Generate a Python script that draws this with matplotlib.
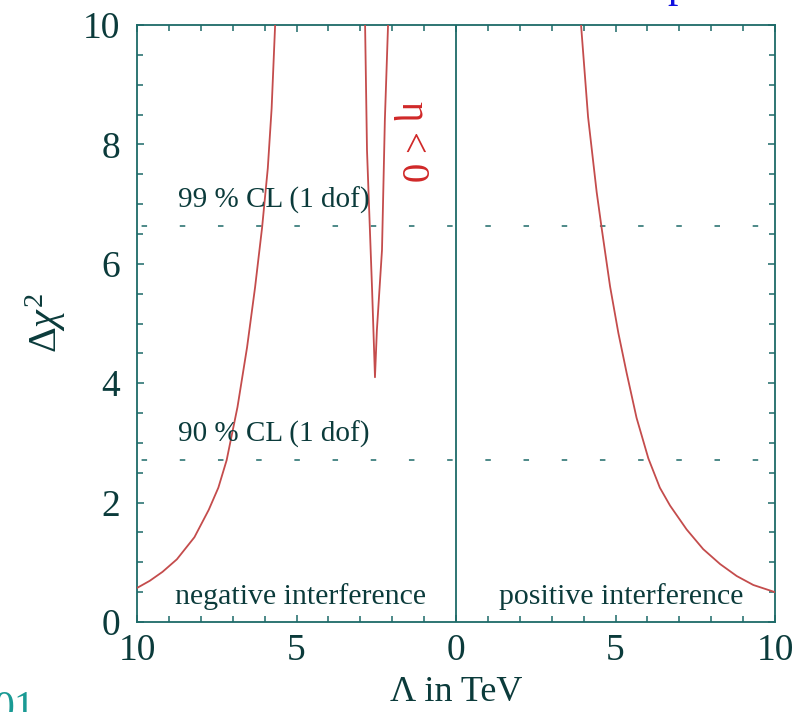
import numpy as np
import matplotlib
matplotlib.use("Agg")
import matplotlib.pyplot as plt
from matplotlib.ticker import MultipleLocator, FixedLocator, FixedFormatter

# curve values (Lambda in TeV, signed: negative = left panel)
left_x = [-10.0, -9.6, -9.2, -8.75, -8.2, -7.75, -7.45, -7.19, -6.85, -6.55, -6.3,
          -6.08, -5.9, -5.78, -5.67]
left_y = [0.57, 0.69, 0.84, 1.05, 1.42, 1.88, 2.25, 2.71, 3.6, 4.6, 5.6,
          6.6, 7.6, 8.6, 10.0]

dip_x = [-2.85, -2.79, -2.63, -2.54, -2.48, -2.32, -2.23, -2.13]
dip_y = [10.0, 7.9, 5.56, 4.1, 4.89, 6.23, 8.41, 10.0]

right_x = [3.92, 4.14, 4.41, 4.56, 4.83, 5.09, 5.35, 5.66, 6.03, 6.39, 6.71, 7.23,
           7.75, 8.28, 8.80, 9.32, 10.0]
right_y = [10.0, 8.46, 7.2, 6.62, 5.62, 4.84, 4.17, 3.42, 2.74, 2.25, 1.95, 1.55,
           1.22, 0.97, 0.77, 0.62, 0.50]

cl_levels = [6.63, 2.71]
cl_labels = ["99 % CL (1 dof)", "90 % CL (1 dof)"]

xtick_pos = [-10, -5, 0, 5, 10]
xtick_lab = ["10", "5", "0", "5", "10"]
ytick_pos = [0, 2, 4, 6, 8, 10]

FRAME = "#1d6a68"
CURVE = "#c44c4c"
TXT = "#0b3b3b"

plt.rcParams["font.family"] = ["Liberation Serif", "DejaVu Serif"]
plt.rcParams["mathtext.fontset"] = "custom"
plt.rcParams["mathtext.rm"] = "Liberation Serif"
plt.rcParams["mathtext.it"] = "Liberation Serif:italic"

fig = plt.figure(figsize=(8.1, 7.12), dpi=100)
ax = fig.add_axes([137 / 810, 90 / 712, 638 / 810, 597 / 712])

for xs, ys in [(left_x, left_y), (dip_x, dip_y), (right_x, right_y)]:
    ax.plot(xs, ys, color=CURVE, lw=1.3, zorder=3)

for lev in cl_levels:
    ax.axhline(lev, color=FRAME, lw=1.1, linestyle=(22.0, (3.6, 21.4)), zorder=2)
ax.axvline(0, color=FRAME, lw=1.3, zorder=2)

for lev, lab in zip(cl_levels, cl_labels):
    ax.text(-8.72, lev + 0.2, lab, fontsize=21, color=TXT, va="bottom")
ax.text(-4.86, 0.42, "negative interference", fontsize=21.5, color=TXT, ha="center", va="center")
ax.text(5.17, 0.42, "positive interference", fontsize=21.5, color=TXT, ha="center", va="center")
ax.text(-1.38, 8.05, "η < 0", fontsize=28, color="#d02828", rotation=-90,
        ha="center", va="center")

ax.set_xlim(-10, 10)
ax.set_ylim(0, 10)
ax.xaxis.set_major_locator(FixedLocator(xtick_pos))
ax.xaxis.set_major_formatter(FixedFormatter(xtick_lab))
ax.xaxis.set_minor_locator(MultipleLocator(1))
ax.yaxis.set_major_locator(FixedLocator(ytick_pos))
ax.yaxis.set_minor_locator(MultipleLocator(0.5))
ax.tick_params(which="both", direction="in", top=True, right=True,
               color=FRAME, width=1.1, labelsize=27, labelcolor=TXT)
ax.tick_params(which="major", length=5)
ax.tick_params(which="minor", length=4)
ax.tick_params(axis="x", which="major", pad=8)
ax.tick_params(axis="y", which="major", pad=12)
for s in ax.spines.values():
    s.set_color(FRAME)
    s.set_linewidth(1.3)

ax.set_xlabel("Λ in TeV", fontsize=26, color=TXT, labelpad=6)
ax.set_ylabel(r"$\Delta\chi^2$", fontsize=29, color=TXT, labelpad=11)

# cropped fragments of the surrounding slide
fig.text(678 / 810, 1 + 3 / 712, "p", fontsize=30, color="#1010e0", ha="center", va="baseline")
fig.text(-0.008, -8 / 712, "01", fontsize=30, color="#1a9a94", ha="left", va="baseline")

fig.savefig("out.png", dpi=100)
